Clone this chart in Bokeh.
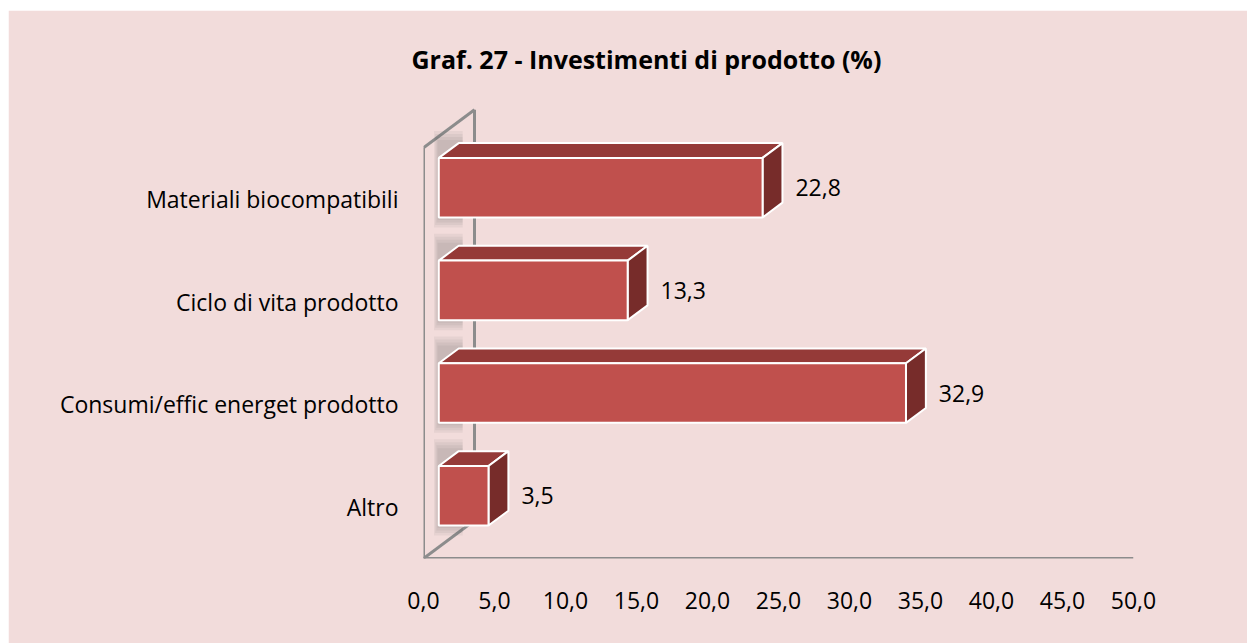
from bokeh.plotting import figure
from bokeh.models import Range1d, FixedTicker, CustomJSTickFormatter, ColumnDataSource, Spacer
from bokeh.layouts import row, column
from bokeh.embed import file_html
from bokeh.resources import INLINE
from bokeh.core.properties import value

# ---- data ----
categories = ["Altro", "Consumi/effic energet prodotto", "Ciclo di vita prodotto", "Materiali biocompatibili"]
values = [3.5, 32.9, 13.3, 22.8]
labels = ["3,5", "32,9", "13,3", "22,8"]
x_ticks = [0, 5, 10, 15, 20, 25, 30, 35, 40, 45, 50]
title_text = "Graf. 27 - Investimenti di prodotto (%)"

# ---- style / geometry ----
BG = "#F2DCDB"
FRONT = "#C0504D"
TOP = "#953A38"
SIDE = "#772C2A"
WALL = "#8C8C8C"
FONT = "Open Sans"
FS = "23px"

W, H = 1239, 633
left_b, right_b, top_b, bot_b = 415, 114, 90, 85
x_max = 50.0
y_max = 4.46
px_x = (W - left_b - right_b) / x_max
px_y = (H - top_b - bot_b) / y_max

DX = 51 / px_x      # full depth offset (data units)
DY = 38 / px_y
f0, f1 = 0.3, 0.69  # bar depth (fraction)
BH = 0.58           # bar thickness

p = figure(width=W, height=H, output_backend="svg", toolbar_location=None,
           x_range=Range1d(0, x_max), y_range=Range1d(0, y_max),
           min_border_left=left_b, min_border_right=right_b,
           min_border_top=top_b, min_border_bottom=bot_b)
p.background_fill_color = BG
p.border_fill_color = BG
p.outline_line_color = BG
p.outline_line_width = 3
p.grid.visible = False

p.title.text = title_text
p.title.text_font = FONT
p.title.text_font_size = "25px"
p.title.text_font_style = "bold"
p.title.text_color = "#000000"
p.title.align = "left"
p.title.offset = -12
p.title.standoff = 49

# wall / floor lines
p.line([0, 0], [0, 4], line_color=WALL, line_width=3)
p.line([0, DX], [4, 4 + DY], line_color=WALL, line_width=3)
p.line([DX, DX], [4 + DY, DY], line_color=WALL, line_width=3)
p.line([0, DX * 0.9], [0, DY * 0.9], line_color=WALL, line_width=3)
p.line([0, x_max], [0, 0], line_color=WALL, line_width=3)

# bars
fx, fy = f0 * DX, f0 * DY
bx, by = f1 * DX, f1 * DY
ddy = by - fy
centers = [i + 0.5 for i in range(len(categories))]

# soft shadow behind bars
for k in range(4):
    g = 4 - k
    p.quad(left=[fx - g * 1.2 / px_x] * 4, right=[bx + 4 / px_x] * 4,
           bottom=[c - BH / 2 + fy - g * 2.5 / px_y for c in centers],
           top=[c + BH / 2 + by + g * 3 / px_y for c in centers],
           fill_color="#505050", fill_alpha=0.07, line_color=None)

top_xs, top_ys, side_xs, side_ys = [], [], [], []
for c, v in zip(centers, values):
    b = c - BH / 2 + fy
    t = c + BH / 2 + fy
    top_xs.append([fx, v + fx, v + bx, bx])
    top_ys.append([t, t, t + ddy, t + ddy])
    side_xs.append([v + fx, v + bx, v + bx, v + fx])
    side_ys.append([b, b + ddy, t + ddy, t])

p.patches(top_xs, top_ys, fill_color=TOP, line_color="white", line_width=2)
p.patches(side_xs, side_ys, fill_color=SIDE, line_color="white", line_width=2)
p.quad(left=[fx] * len(values), right=[v + fx for v in values],
       bottom=[c - BH / 2 + fy for c in centers], top=[c + BH / 2 + fy for c in centers],
       fill_color=FRONT, line_color="white", line_width=2)

# data labels
src = ColumnDataSource(dict(x=[v + bx + 13 / px_x for v in values],
                            y=[c + fy for c in centers], t=labels))
p.text(x="x", y="y", text="t", source=src, text_font=value(FONT), text_font_size=FS,
       text_align="left", text_baseline="middle", text_color="#000000")

# axes
xa = p.xaxis[0]
xa.ticker = FixedTicker(ticks=x_ticks)
xa.formatter = CustomJSTickFormatter(code="return tick.toFixed(1).replace('.', ',');")
xa.axis_line_color = None
xa.major_tick_line_color = None
xa.minor_tick_line_color = None
xa.major_label_text_font = FONT
xa.major_label_text_font_size = FS
xa.major_label_text_color = "#000000"
xa.major_label_standoff = 27

ya = p.yaxis[0]
ya.ticker = FixedTicker(ticks=centers)
ya.major_label_overrides = {c: n for c, n in zip(centers, categories)}
ya.axis_line_color = None
ya.major_tick_line_color = None
ya.minor_tick_line_color = None
ya.major_label_text_font = FONT
ya.major_label_text_font_size = FS
ya.major_label_text_color = "#000000"
ya.major_label_standoff = 19

layout = row(Spacer(width=8), column(Spacer(height=10), p))
open("out.html", "w").write(file_html(layout, INLINE))
